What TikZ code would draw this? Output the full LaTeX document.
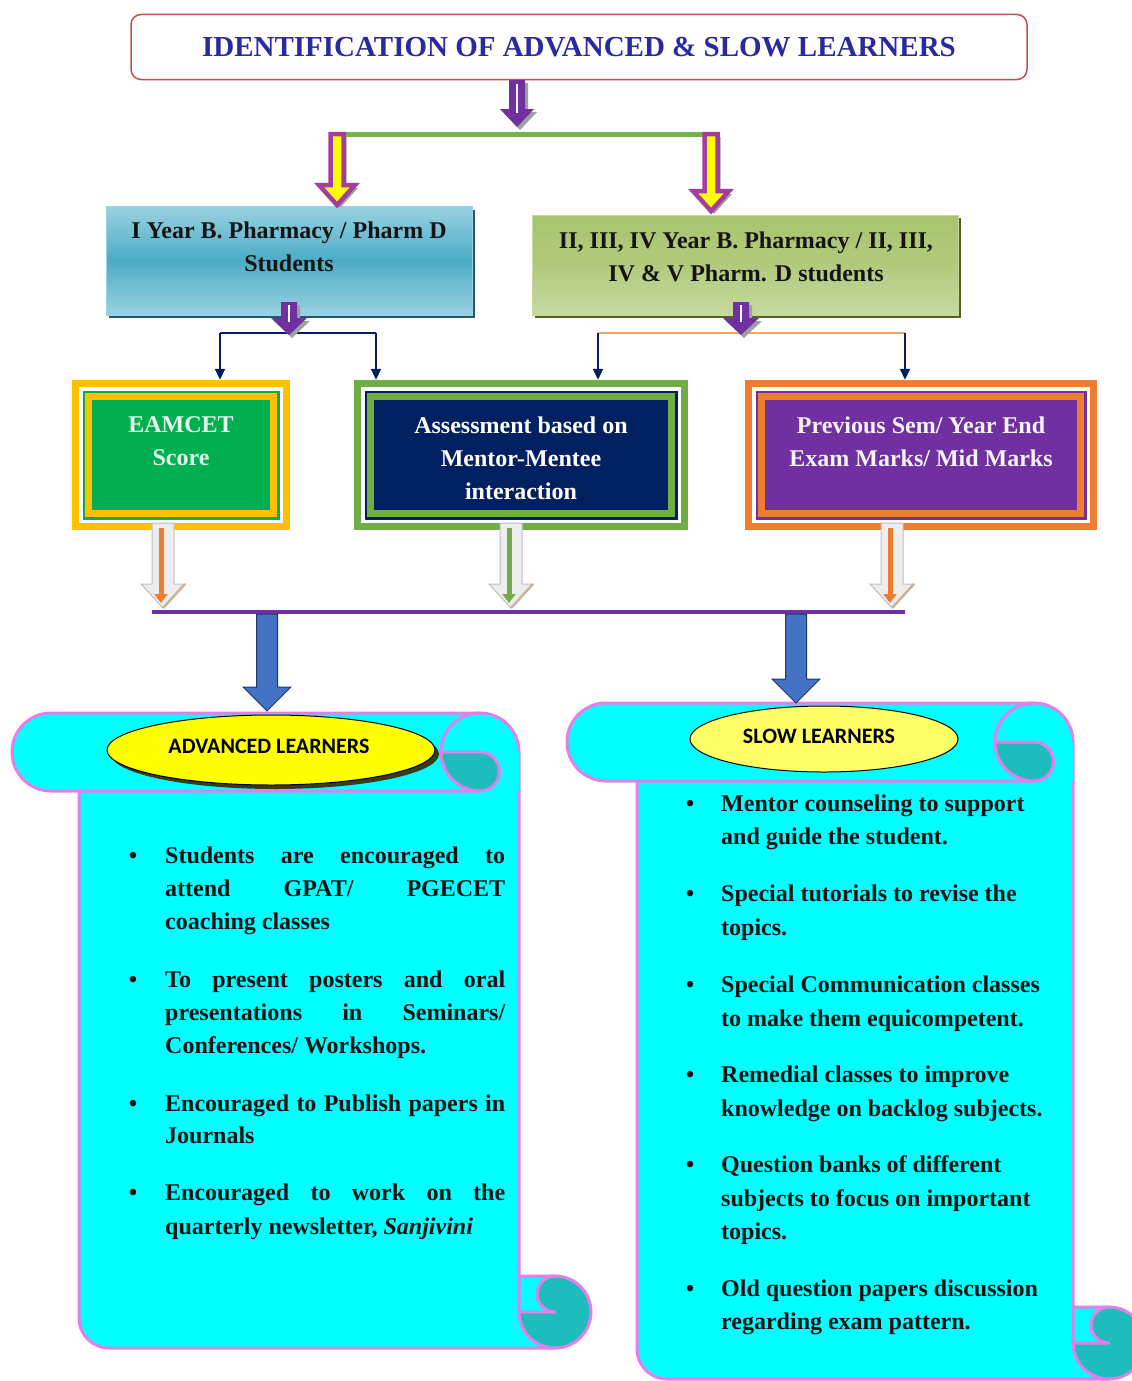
\documentclass[tikz,border=0pt]{standalone}
\usepackage{fontspec}
\setmainfont{Liberation Serif}
\newfontfamily\calib{Carlito}
\usetikzlibrary{arrows.meta,shapes.geometric}
\definecolor{ttlblue}{HTML}{2A2A9E}
\definecolor{ttlred}{HTML}{C0504D}
\definecolor{barpurple}{HTML}{7030A0}
\definecolor{barmag}{HTML}{A63C9E}
\definecolor{bargreen}{HTML}{77B24B}
\definecolor{bluetop}{HTML}{9AD2E2}
\definecolor{bluemid}{HTML}{4BACC6}
\definecolor{blueshadow}{HTML}{23596B}
\definecolor{greentop}{HTML}{C6DAA0}
\definecolor{greenmid}{HTML}{A8C46E}
\definecolor{greenshadow}{HTML}{4F6228}
\definecolor{navyc}{HTML}{002060}
\definecolor{goldc}{HTML}{FFC000}
\definecolor{greenc}{HTML}{00B050}
\definecolor{lgreenc}{HTML}{70AD47}
\definecolor{orangec}{HTML}{ED7D31}
\definecolor{lorange}{HTML}{F4A460}
\definecolor{arrowblue}{HTML}{4472C4}
\definecolor{arrowedge}{HTML}{1F3864}
\definecolor{scrollcyan}{HTML}{00FFFF}
\definecolor{scrollpink}{HTML}{E47FE8}
\definecolor{scrollteal}{HTML}{1DBDBD}
\definecolor{ellyellow}{HTML}{FFFF00}
\definecolor{ellyellow2}{HTML}{FFFF66}
\definecolor{tanc}{HTML}{C8B49E}
\definecolor{txtdark}{HTML}{141414}
\definecolor{shadowgrey}{HTML}{A0A0A0}
\definecolor{ellshadow}{HTML}{3A3A20}

% x centre, y top, y tip, shaft width, head width, head length, options
\newcommand\blockarrow[7]{%
  \path[#7] (#1-#4/2,#2) -- (#1+#4/2,#2) -- (#1+#4/2,#3-#6) -- (#1+#5/2,#3-#6)
    -- (#1,#3) -- (#1-#5/2,#3-#6) -- (#1-#4/2,#3-#6) -- cycle;}
% x1 y1 x2 y2 outer inner
\newcommand\framedbox[6]{%
  \fill[#5] (#1,#2) rectangle (#3,#4);
  \fill[white] (#1+7,#2+7) rectangle (#3-7,#4-7);
  \fill[#6] (#1+10.5,#2+10.5) rectangle (#3-10.5,#4-10.5);
  \fill[#5] (#1+13,#2+13) rectangle (#3-13,#4-13);
  \fill[#6] (#1+20,#2+20) rectangle (#3-20,#4-20);}
% pill centre x, banner centre y, top curl centre x, body left x, body bottom y
\newcommand\scrollshape[5]{%
  \filldraw[scrollline, fill=scrollcyan] (#4,#2) -- (#4,#5-30)
    arc[start angle=180,end angle=270,radius=30pt] -- (#3+75,#5) -- (#3+75,#5-36)
    -- (#3+39,#5-36) -- (#3+39,#2) -- cycle;
  \fill[scrollcyan] (#1,#2-39) -- (#3,#2-39) arc[start angle=90,end angle=0,radius=39pt]
    -- (#3+39,#2+39) -- (#1,#2+39) arc[start angle=270,end angle=90,radius=39pt] -- cycle;
  \draw[scrollline] (#3+39,#2) arc[start angle=0,end angle=90,radius=39pt] -- (#1,#2-39)
    arc[start angle=90,end angle=270,radius=39pt] -- (#3,#2+39);
  \filldraw[scrollline, fill=scrollteal] (#3-39,#2) -- (#3,#2)
    arc[start angle=90,end angle=-90,radius=19.5pt]
    arc[start angle=270,end angle=180,radius=39pt] -- cycle;
  \draw[scrollline] (#3-39,#2) arc[start angle=180,end angle=90,radius=39pt];
  \filldraw[scrollline, fill=scrollteal] (#3+75,#5-36) circle[radius=36pt];
  \filldraw[scrollline, fill=scrollcyan] (#3+39,#5-72) -- (#3+75,#5-72)
    arc[start angle=90,end angle=270,radius=18pt] -- (#3+39,#5-36) -- cycle;}

\tikzset{
  scrollline/.style={draw=scrollpink, line width=3pt, line join=round},
  body/.style={font=\fontsize{24}{33}\selectfont\bfseries, text=txtdark, inner sep=0pt},
  boxtext/.style={font=\fontsize{24}{33}\selectfont\bfseries, inner sep=0pt, align=center},
  navyline/.style={draw=navyc, line width=1.8pt},
  navyarrow/.style={navyline, -{Triangle[length=11pt,width=10pt]}},
  elltext/.style={font=\calib\bfseries\fontsize{22}{26}\selectfont, text=black},
}

\begin{document}
\begin{tikzpicture}[x=1pt,y=-1pt]
\useasboundingbox (0,0) rectangle (1132,1381);
\fill[white] (0,0) rectangle (1132,1381);

% ---------- title ----------
\node[draw=ttlred, line width=1.5pt, rounded corners=10pt, fill=white,
      minimum width=896pt, minimum height=65pt, inner sep=0pt,
      font=\fontsize{29}{34}\selectfont\bfseries, text=ttlblue] (title) at (579,47)
      {IDENTIFICATION OF ADVANCED \& SLOW LEARNERS};

% purple arrow to green bar
\coordinate (tmid) at (517,134.5);
\coordinate (tsplitL) at (337,134.5);
\coordinate (tsplitR) at (711,134.5);
\blockarrow{520}{83}{130}{16}{34}{18}{fill=shadowgrey}
\blockarrow{517}{80}{127}{16}{34}{18}{fill=barpurple}
\draw[white, line width=2.5pt] (517,84) -- (517,113);
\draw[bargreen, line width=5pt] (tsplitL) -- (tsplitR);

% ---------- second row boxes ----------
\fill[blueshadow] (109,210) rectangle (475,318);
\node[inner sep=0pt, minimum width=366pt, minimum height=109pt,
      top color=bluetop, bottom color=bluetop, middle color=bluemid,
      draw=bluetop, line width=0.8pt] (yr1) at (289,260.5) {};
\node[boxtext, text=txtdark] (yr1t) at (289,247) {I Year B. Pharmacy / Pharm D\\Students};

\fill[greenshadow] (535,218) rectangle (961,318);
\node[inner sep=0pt, minimum width=426pt, minimum height=100pt,
      top color=greenmid, bottom color=greentop, middle color=greenmid!70!greentop,
      draw=greentop, line width=0.8pt] (yr2) at (745,265) {};
\node[boxtext, text=txtdark] (yr2t) at (746,257) {II, III, IV Year B. Pharmacy / II, III,\\IV \& V Pharm. D students};

% magenta arrows
\blockarrow{340}{137}{208}{13}{36}{20}{fill=shadowgrey}
\blockarrow{337}{134}{205}{13}{36}{20}{fill=ellyellow, draw=barmag, line width=4.5pt, line join=miter}
\blockarrow{714}{137}{214}{13}{36}{20}{fill=shadowgrey}
\blockarrow{711}{134}{211}{13}{36}{20}{fill=ellyellow, draw=barmag, line width=4.5pt, line join=miter}

% ---------- third row boxes ----------
\node[inner sep=0pt, minimum width=218pt, minimum height=150pt] (eam) at (181,455) {};
\node[inner sep=0pt, minimum width=334pt, minimum height=150pt] (ment) at (521,455) {};
\node[inner sep=0pt, minimum width=352pt, minimum height=150pt] (prev) at (921,455) {};
\framedbox{72}{380}{290}{530}{goldc}{greenc}
\framedbox{354}{380}{688}{530}{lgreenc}{navyc}
\framedbox{745}{380}{1097}{530}{orangec}{barpurple}
\node[boxtext, text=white!90!greenc] (eamt) at (181,441.5) {EAMCET\\Score};
\node[boxtext, text=white] (mentt) at (521,458.5) {Assessment based on\\Mentor-Mentee\\interaction};
\node[boxtext, text=white!94!barpurple] (prevt) at (921,441.5) {Previous Sem/ Year End\\Exam Marks/ Mid Marks};

% connectors row 2 -> row 3
\coordinate (lL) at (220,333);
\coordinate (lR) at (376,333);
\coordinate (rL) at (598,333);
\coordinate (rR) at (905,333);
\draw[navyline] (lL) -- (lR);
\draw[navyarrow] (lL) -- (lL |- eam.north);
\draw[navyarrow] (lR) -- (lR |- ment.north);
\draw[lorange, line width=1.6pt] (rL) -- (rR);
\draw[navyarrow] (rL) -- (rL |- ment.north);
\draw[navyarrow] (rR) -- (rR |- prev.north);

% small purple arrows
\blockarrow{292}{305}{338}{16}{36}{17}{fill=shadowgrey}
\blockarrow{289}{302}{335}{16}{36}{17}{fill=barpurple}
\draw[white, line width=2pt] (289,305) -- (289,322);
\blockarrow{744}{305}{338}{16}{36}{17}{fill=shadowgrey}
\blockarrow{741}{302}{335}{16}{36}{17}{fill=barpurple}
\draw[white, line width=2pt] (741,305) -- (741,322);

% ---------- hollow arrows to purple bar ----------
\coordinate (pl) at (152,612);
\coordinate (pr) at (905,612);
\foreach \ax/\ac in {163/orangec, 511/lgreenc, 892/orangec}{
  \blockarrow{\ax}{523}{608}{22}{44}{24}{fill=white!93!black, draw=white!75!black, line width=1pt}
  \draw[tanc, line width=2.5pt] (\ax+22,584) -- (\ax,608);
  \draw[\ac, line width=5pt, -{Triangle[length=9pt,width=13pt]}] (\ax-2,528) -- (\ax-2,603);
}
\draw[barpurple, line width=4pt] (pl) -- (pr);

% ---------- scrolls ----------
\scrollshape{51}{752}{480}{79}{1348}
\scrollshape{606}{742}{1034}{637}{1379}

% blue arrows
\blockarrow{267}{614}{711}{21}{48}{24}{fill=arrowblue, draw=arrowedge, line width=1pt}
\blockarrow{796}{614}{703}{21}{48}{24}{fill=arrowblue, draw=arrowedge, line width=1pt}

% ellipses
\fill[ellshadow] (275,754) ellipse[x radius=164pt, y radius=35pt];
\node[draw=black, line width=1pt, fill=ellyellow, ellipse, minimum width=328pt, minimum height=70pt, inner sep=0pt] (advell) at (271,750) {};
\node[elltext] (advt) at (269,746) {ADVANCED LEARNERS};
\node[draw=black, line width=1pt, fill=ellyellow2, ellipse, minimum width=268pt, minimum height=66pt, inner sep=0pt] (slowell) at (824,739) {};
\node[elltext] (slowt) at (819,736) {SLOW LEARNERS};

% ---------- left bullets ----------
\node[body, anchor=base] (ab1) at (133,863) {\textbullet};
\node[body, anchor=base west] (a11) at (165,863) {\makebox[340pt][s]{Students are encouraged to}};
\node[body, anchor=base west] (a12) at (165,896) {\makebox[340pt][s]{attend GPAT/ PGECET}};
\node[body, anchor=base west] (a13) at (165,929) {coaching classes};
\node[body, anchor=base] (ab2) at (133,987) {\textbullet};
\node[body, anchor=base west] (a21) at (165,987) {\makebox[340pt][s]{To present posters and oral}};
\node[body, anchor=base west] (a22) at (165,1020) {\makebox[340pt][s]{presentations in Seminars/}};
\node[body, anchor=base west] (a23) at (165,1053) {Conferences/ Workshops.};
\node[body, anchor=base] (ab3) at (133,1111) {\textbullet};
\node[body, anchor=base west] (a31) at (165,1111) {\makebox[340pt][s]{Encouraged to Publish papers in}};
\node[body, anchor=base west] (a32) at (165,1143) {Journals};
\node[body, anchor=base] (ab4) at (133,1200) {\textbullet};
\node[body, anchor=base west] (a41) at (165,1200) {\makebox[340pt][s]{Encouraged to work on the}};
\node[body, anchor=base west] (a42) at (165,1234) {quarterly newsletter, \textit{Sanjivini}};

% ---------- right bullets ----------
\node[body, anchor=base] (bb1) at (690,811) {\textbullet};
\node[body, anchor=base west] (b11) at (721,811) {Mentor counseling to support};
\node[body, anchor=base west] (b12) at (721,844) {and guide the student.};
\node[body, anchor=base] (bb2) at (690,901) {\textbullet};
\node[body, anchor=base west] (b21) at (721,901) {Special tutorials to revise the};
\node[body, anchor=base west] (b22) at (721,935) {topics.};
\node[body, anchor=base] (bb3) at (690,992) {\textbullet};
\node[body, anchor=base west] (b31) at (721,992) {Special Communication classes};
\node[body, anchor=base west] (b32) at (721,1026) {to make them equicompetent.};
\node[body, anchor=base] (bb4) at (690,1082) {\textbullet};
\node[body, anchor=base west] (b41) at (721,1082) {Remedial classes to improve};
\node[body, anchor=base west] (b42) at (721,1116) {knowledge on backlog subjects.};
\node[body, anchor=base] (bb5) at (690,1172) {\textbullet};
\node[body, anchor=base west] (b51) at (721,1172) {Question banks of different};
\node[body, anchor=base west] (b52) at (721,1206) {subjects to focus on important};
\node[body, anchor=base west] (b53) at (721,1239) {topics.};
\node[body, anchor=base] (bb6) at (690,1296) {\textbullet};
\node[body, anchor=base west] (b61) at (721,1296) {Old question papers discussion};
\node[body, anchor=base west] (b62) at (721,1329) {regarding exam pattern.};
\end{tikzpicture}
\end{document}
